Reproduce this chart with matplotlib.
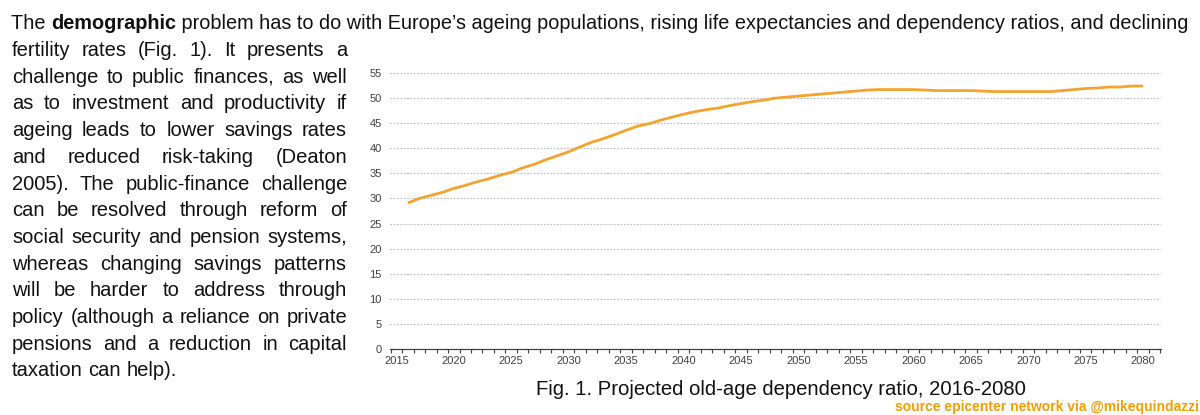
import numpy as np
import matplotlib
matplotlib.use("Agg")
import matplotlib.pyplot as plt
from matplotlib.ticker import FixedLocator

# old-age dependency ratio, EU, yearly projection
years = list(range(2016, 2081))
ratio = [
    29.1, 30.0, 30.6, 31.2, 32.0, 32.6, 33.3, 33.9, 34.6, 35.2,
    36.1, 36.8, 37.7, 38.5, 39.3, 40.3, 41.2, 41.9, 42.7, 43.6,
    44.4, 44.9, 45.6, 46.2, 46.8, 47.3, 47.7, 48.0, 48.5, 48.9,
    49.3, 49.6, 50.0, 50.2, 50.4, 50.6, 50.8, 51.0, 51.2, 51.4,
    51.6, 51.7, 51.7, 51.7, 51.7, 51.6, 51.5, 51.5, 51.5, 51.5,
    51.4, 51.3, 51.3, 51.3, 51.3, 51.3, 51.3, 51.5, 51.7, 51.9,
    52.0, 52.2, 52.2, 52.4, 52.4,
]
year_labels = list(range(2015, 2081, 5))
y_ticks = list(range(0, 56, 5))

first_line = ["The ", "demographic",
              " problem has to do with Europe\u2019s ageing populations, rising life "
              "expectancies and dependency ratios, and declining"]
side_lines = [
    "fertility rates (Fig. 1). It presents a",
    "challenge to public finances, as well",
    "as to investment and productivity if",
    "ageing leads to lower savings rates",
    "and reduced risk-taking (Deaton",
    "2005). The public-finance challenge",
    "can be resolved through reform of",
    "social security and pension systems,",
    "whereas changing savings patterns",
    "will be harder to address through",
    "policy (although a reliance on private",
    "pensions and a reduction in capital",
    "taxation can help).",
]
caption = "Fig. 1. Projected old-age dependency ratio, 2016-2080"
credit = "source epicenter network via @mikequindazzi"

W, H = 1200, 415
TEXT_FONT = ["Liberation Sans", "DejaVu Sans"]
NARROW = ["Liberation Sans Narrow", "Liberation Sans", "DejaVu Sans"]
ORANGE = "#F2A330"

fig = plt.figure(figsize=(W / 100, H / 100), dpi=100)
fig.patch.set_facecolor("white")
renderer = fig.canvas.get_renderer()


def px(x, y):
    return x / W, 1 - y / H


def justified(line, x0, x1, y, size=14.5, justify=True):
    # y is the baseline, in pixels from the top
    items = []
    for w in line.split(" "):
        t = fig.text(*px(x0, y), w, fontsize=size, family=TEXT_FONT,
                     va="baseline", ha="left", color="#111111")
        items.append(t)
    widths = [t.get_window_extent(renderer).width for t in items]
    if justify and len(items) > 1:
        gap = (x1 - x0 - sum(widths)) / (len(items) - 1)
    else:
        gap = size * 0.278 * 100 / 72
    x = x0
    for t, wd in zip(items, widths):
        t.set_position(px(x, y))
        x += wd + gap


# first line: three pieces, font size scaled to fill the full width
pieces = []
for k, s in enumerate(first_line):
    pieces.append(fig.text(*px(11, 29), s, fontsize=14.5, family=TEXT_FONT,
                           fontweight="bold" if k == 1 else "normal",
                           va="baseline", ha="left", color="#111111"))
natural = sum(t.get_window_extent(renderer).width for t in pieces)
scale = (1188 - 11) / natural
x = 11
for t in pieces:
    t.set_fontsize(14.5 * scale)
    t.set_position(px(x, 29))
    x += t.get_window_extent(renderer).width

for i, line in enumerate(side_lines):
    last = i == len(side_lines) - 1
    justified(line, 12, 347, 56 + 26.7 * i, justify=not last)

# chart
ax = fig.add_axes([390 / W, 1 - 349 / H, 771 / W, 276 / H])
ax.plot(years, ratio, color=ORANGE, lw=2.0, solid_capstyle="butt")
ax.set_xlim(2014.45, 2081.55)
ax.set_ylim(0, 55)

ax.set_xticks(year_labels)
ax.xaxis.set_minor_locator(FixedLocator(np.arange(2014.5, 2082, 1)))
ax.tick_params(axis="x", which="major", length=0, pad=5, labelsize=8,
               labelcolor="#404040")
ax.tick_params(axis="x", which="minor", length=3, width=0.8, color="#404040")
ax.set_yticks(y_ticks)
ax.tick_params(axis="y", length=0, pad=6, labelsize=8, labelcolor="#404040")
for lab in ax.get_xticklabels() + ax.get_yticklabels():
    lab.set_family(NARROW)

for v in y_ticks[1:]:
    ax.axhline(v, color="#BBBBBB", lw=0.8, ls=(0, (1.5, 1.5)), zorder=0)

for s in ["top", "right", "left"]:
    ax.spines[s].set_visible(False)
ax.spines["bottom"].set_color("#404040")
ax.spines["bottom"].set_linewidth(0.9)

fig.text(*px(781, 389), caption, fontsize=14.6, family=TEXT_FONT,
         ha="center", va="center", color="#111111")
fig.text(*px(1199, 407), credit, fontsize=10, family=NARROW, fontweight="bold",
         ha="right", va="center", color="#F0A000")

fig.savefig("out.png", dpi=100)
